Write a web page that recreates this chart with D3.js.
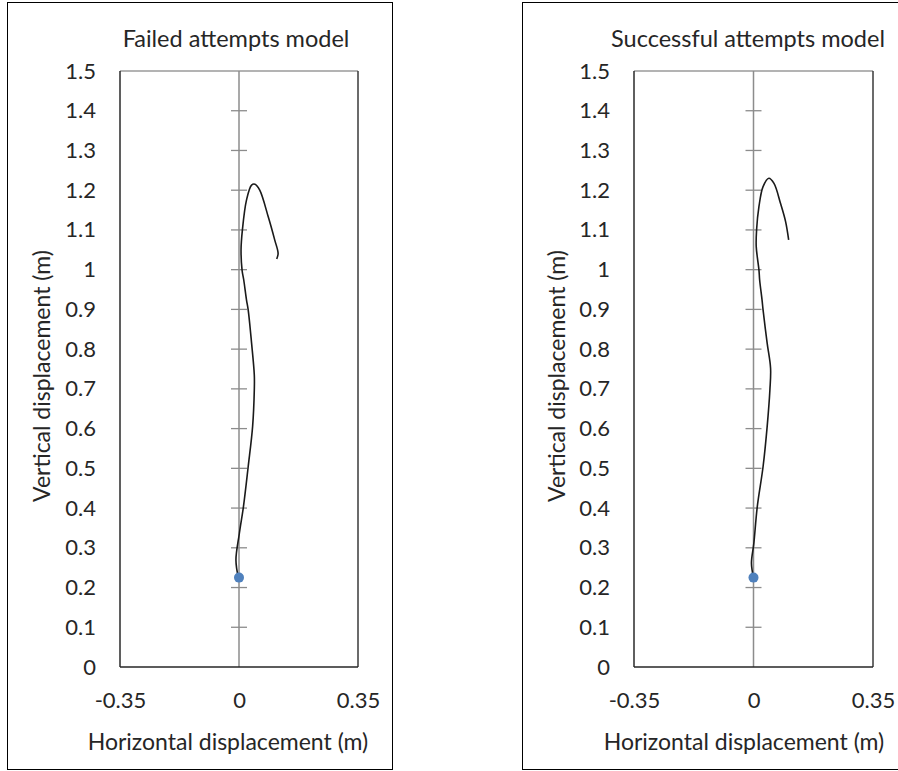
<!DOCTYPE html>
<html>
<head>
<meta charset="utf-8">
<script src="https://cdn.jsdelivr.net/npm/d3@7"></script>
<style>
  html, body { margin: 0; padding: 0; background: #ffffff; }
  svg { display: block; }
  text { font-family: Lato, "Open Sans", sans-serif; fill: #262626; }
</style>
</head>
<body>
<svg id="chart" width="898" height="771"></svg>
<script>
// ---- data ----
const panelTitles = ["Failed attempts model", "Successful attempts model"];
const xTicks = [-0.35, 0, 0.35];
const xTickLabels = ["-0.35", "0", "0.35"];
const yTicks = [0, 0.1, 0.2, 0.3, 0.4, 0.5, 0.6, 0.7, 0.8, 0.9, 1, 1.1, 1.2, 1.3, 1.4, 1.5];
const yTickLabels = ["0", "0.1", "0.2", "0.3", "0.4", "0.5", "0.6", "0.7", "0.8", "0.9", "1", "1.1", "1.2", "1.3", "1.4", "1.5"];
const xAxisTitle = "Horizontal displacement (m)";
const yAxisTitle = "Vertical displacement (m)";

const failedX = [-0.002, -0.009, 0.001, 0.013, 0.027, 0.040, 0.045, 0.045, 0.037, 0.027, 0.022, 0.014, 0.009, 0.006, 0.010, 0.022, 0.037, 0.047, 0.061, 0.086, 0.105, 0.115, 0.111];
const failedY = [0.225, 0.269, 0.336, 0.403, 0.504, 0.605, 0.697, 0.735, 0.815, 0.899, 0.924, 0.974, 0.999, 1.050, 1.100, 1.175, 1.213, 1.215, 1.200, 1.133, 1.075, 1.041, 1.027];

const successX = [0.000, -0.006, 0.001, 0.011, 0.028, 0.040, 0.048, 0.050, 0.040, 0.028, 0.025, 0.018, 0.016, 0.008, 0.009, 0.016, 0.028, 0.045, 0.060, 0.079, 0.094, 0.103];
const successY = [0.225, 0.261, 0.311, 0.403, 0.504, 0.605, 0.697, 0.752, 0.815, 0.899, 0.924, 0.974, 0.999, 1.058, 1.100, 1.159, 1.209, 1.230, 1.217, 1.167, 1.121, 1.075];

// start markers (x, y)
const startX = [0, 0];
const startY = [0.225, 0.225];

// ---- layout ----
const panels = [
  { frame: [7.5, 2.5, 385, 767], plot: [120, 358, 71, 667], title: [236, 47], yTitleX: 42, xTitleX: 228, xs: failedX, ys: failedY },
  { frame: [522.5, 2.5, 420, 767], plot: [634, 873, 71, 667], title: [748, 47], yTitleX: 557, xTitleX: 744, xs: successX, ys: successY }
];

const TICK_FS = "22px", TITLE_FS = "23.5px", AXT_FS = "23px";

const svg = d3.select("#chart");

panels.forEach((p, i) => {
  const g = svg.append("g");
  const [x0, x1, y0, y1] = p.plot;
  const x = d3.scaleLinear().domain([-0.35, 0.35]).range([x0, x1]);
  const y = d3.scaleLinear().domain([0, 1.5]).range([y1, y0]);

  // outer frame
  g.append("rect")
    .attr("x", p.frame[0]).attr("y", p.frame[1])
    .attr("width", p.frame[2]).attr("height", p.frame[3])
    .attr("fill", "none").attr("stroke", "#000").attr("stroke-width", 1);

  // title
  g.append("text")
    .attr("x", p.title[0]).attr("y", p.title[1])
    .attr("text-anchor", "middle")
    .style("font-size", TITLE_FS)
    .text(panelTitles[i]);

  // plot area borders
  g.append("line").attr("x1", x0).attr("x2", x1).attr("y1", y0).attr("y2", y0)
    .attr("stroke", "#9a9a9a").attr("stroke-width", 1.5);
  g.append("line").attr("x1", x0).attr("x2", x0).attr("y1", y0).attr("y2", y1)
    .attr("stroke", "#2a2a2a").attr("stroke-width", 1.5);
  g.append("line").attr("x1", x1).attr("x2", x1).attr("y1", y0).attr("y2", y1)
    .attr("stroke", "#3a3a3a").attr("stroke-width", 1.5);

  // y tick labels on the left
  const yAxis = d3.axisLeft(y).tickValues(yTicks).tickSize(0).tickPadding(24)
    .tickFormat((d, k) => yTickLabels[k]);
  const ya = g.append("g").attr("transform", `translate(${x0},0)`).call(yAxis);
  ya.select(".domain").remove();
  ya.selectAll("text").style("font-size", TICK_FS).style("font-family", "Lato, sans-serif").attr("fill", "#262626");

  // x tick labels at the bottom
  const xAxis = d3.axisBottom(x).tickValues(xTicks).tickSize(0).tickPadding(25)
    .tickFormat((d, k) => xTickLabels[k]);
  const xa = g.append("g").attr("transform", `translate(0,${y1})`).call(xAxis);
  xa.select(".domain").remove();
  xa.selectAll("text").style("font-size", TICK_FS).style("font-family", "Lato, sans-serif").attr("fill", "#262626");

  // vertical axis at x = 0 with cross ticks
  g.append("line").attr("x1", x(0)).attr("x2", x(0)).attr("y1", y(1.5)).attr("y2", y(0))
    .attr("stroke", "#8c8c8c").attr("stroke-width", 1.5);
  g.selectAll(".ctick").data(yTicks.filter(v => v > 0 && v < 1.5)).enter().append("line")
    .attr("x1", x(0) - 8).attr("x2", x(0) + 8)
    .attr("y1", d => y(d)).attr("y2", d => y(d))
    .attr("stroke", "#8c8c8c").attr("stroke-width", 1.3);

  // horizontal axis at y = 0
  g.append("line").attr("x1", x0).attr("x2", x1).attr("y1", y(0)).attr("y2", y(0))
    .attr("stroke", "#262626").attr("stroke-width", 1.5);

  // trajectory
  const pts = p.xs.map((v, k) => [v, p.ys[k]]);
  const line = d3.line().x(d => x(d[0])).y(d => y(d[1])).curve(d3.curveCatmullRom.alpha(0.5));
  g.append("path").datum(pts).attr("d", line)
    .attr("fill", "none").attr("stroke", "#1a1a1a").attr("stroke-width", 1.6);

  // start marker
  g.append("circle").attr("cx", x(startX[i])).attr("cy", y(startY[i])).attr("r", 5)
    .attr("fill", "#4f81bd");

  // axis titles
  g.append("text")
    .attr("x", p.xTitleX).attr("y", 750)
    .attr("text-anchor", "middle")
    .style("font-size", AXT_FS)
    .text(xAxisTitle);
  g.append("text")
    .attr("transform", `translate(${p.yTitleX},376) rotate(-90)`)
    .attr("text-anchor", "middle")
    .attr("dy", "0.35em")
    .style("font-size", AXT_FS)
    .text(yAxisTitle);
});
</script>
</body>
</html>
